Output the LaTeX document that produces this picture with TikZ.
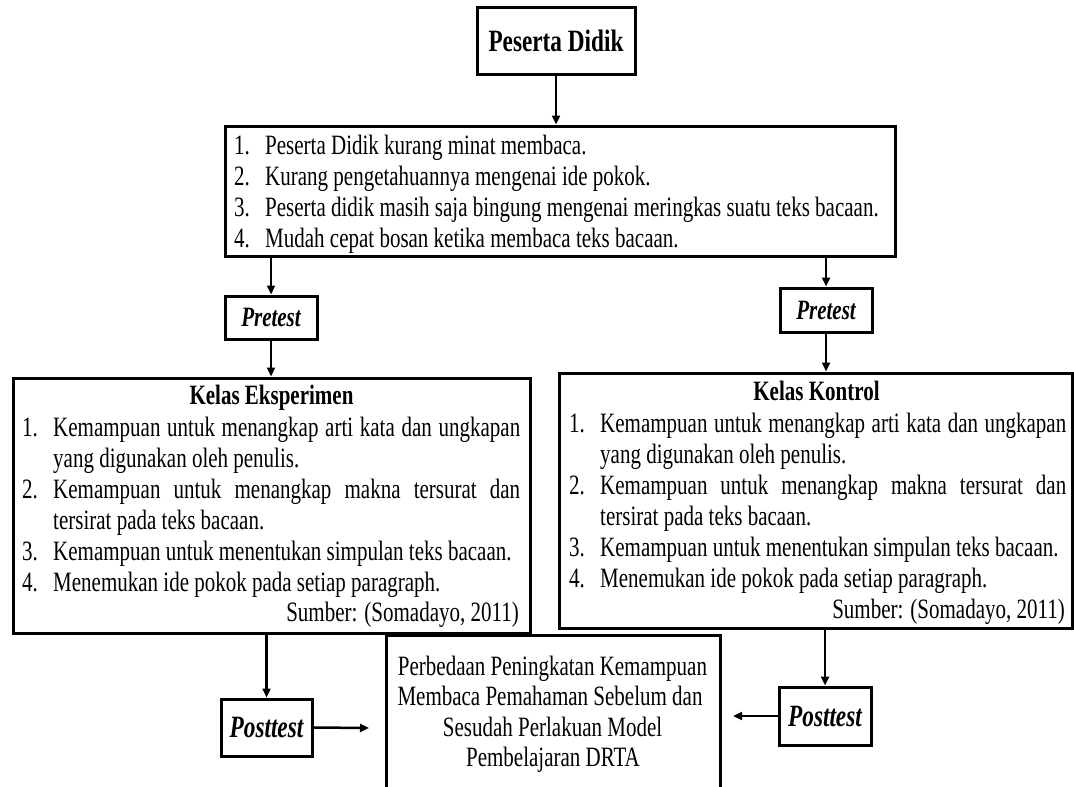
\documentclass[tikz,border=0pt]{standalone}
\usepackage{fontspec}
\setmainfont{Liberation Serif}[FakeStretch=0.75]
\usetikzlibrary{arrows.meta}
\newcommand{\nm}[1]{\makebox[31pt][l]{#1}}
\newcommand{\jl}[2]{\makebox[#1][s]{#2}}
\begin{document}
\begin{tikzpicture}[x=1pt,y=-1pt,
  frame/.style={draw, line width=3pt, rectangle, inner sep=0pt},
  arr/.style={line width=2.5pt, -{Triangle[length=9pt,width=8pt]}},
  txt/.style={inner sep=0pt, font=\fontsize{28}{31}\selectfont},
  lbl/.style={frame, font=\fontsize{28}{31}\selectfont\bfseries\itshape},
  post/.style={frame, font=\fontsize{31}{33}\selectfont\bfseries\itshape},
]
\useasboundingbox (0,0) rectangle (1074,787);
\clip (0,0) rectangle (1074,787);

% boxes
\node[frame, minimum width=158pt, minimum height=67pt, font=\fontsize{31}{33}\selectfont\bfseries] (pd) at (556,40.5) {Peserta Didik};
\node[frame, minimum width=670pt, minimum height=130pt] (prob) at (560,191) {};
\node[lbl, minimum width=92pt, minimum height=43pt] (preL) at (271,317.5) {Pretest};
\node[lbl, minimum width=92pt, minimum height=44pt] (preR) at (826,310) {Pretest};
\node[frame, minimum width=517pt, minimum height=255pt] (eks) at (271.5,505.5) {};
\node[frame, minimum width=513pt, minimum height=255pt] (kon) at (815.5,500.5) {};
\node[post, minimum width=91pt, minimum height=57pt] (postL) at (266.5,727.5) {Posttest};
\node[post, minimum width=92pt, minimum height=58pt] (postR) at (825,716) {Posttest};
\node[frame, minimum width=334pt, minimum height=180pt] (hasil) at (553,725) {};

% problem box text
\node[txt, anchor=base west] (p1) at (234,154) {\nm{1.}Peserta Didik kurang minat membaca.};
\node[txt, anchor=base west] (p2) at (234,185) {\nm{2.}Kurang pengetahuannya mengenai ide pokok.};
\node[txt, anchor=base west] (p3) at (234,216) {\nm{3.}Peserta didik masih saja bingung mengenai meringkas suatu teks bacaan.};
\node[txt, anchor=base west] (p4) at (234,247) {\nm{4.}Mudah cepat bosan ketika membaca teks bacaan.};

% eksperimen text
\node[txt, anchor=base, font=\fontsize{28}{31}\selectfont\bfseries] (e0) at (271.5,404) {Kelas Eksperimen};
\node[txt, anchor=base west] (e1) at (22,436) {\nm{1.}\jl{467pt}{Kemampuan untuk menangkap arti kata dan ungkapan}};
\node[txt, anchor=base west] (e2) at (53,467) {yang digunakan oleh penulis.};
\node[txt, anchor=base west] (e3) at (22,498) {\nm{2.}\jl{467pt}{Kemampuan untuk menangkap makna tersurat dan}};
\node[txt, anchor=base west] (e4) at (53,529) {tersirat pada teks bacaan.};
\node[txt, anchor=base west] (e5) at (22,560) {\nm{3.}Kemampuan untuk menentukan simpulan teks bacaan.};
\node[txt, anchor=base west] (e6) at (22,591) {\nm{4.}Menemukan ide pokok pada setiap paragraph.};
\node[txt, anchor=base east] (e7) at (519,621) {Sumber: (Somadayo, 2011)};

% kontrol text
\node[txt, anchor=base, font=\fontsize{28}{31}\selectfont\bfseries] (k0) at (816.5,400) {Kelas Kontrol};
\node[txt, anchor=base west] (k1) at (569,432) {\nm{1.}\jl{466pt}{Kemampuan untuk menangkap arti kata dan ungkapan}};
\node[txt, anchor=base west] (k2) at (600,463) {yang digunakan oleh penulis.};
\node[txt, anchor=base west] (k3) at (569,494) {\nm{2.}\jl{466pt}{Kemampuan untuk menangkap makna tersurat dan}};
\node[txt, anchor=base west] (k4) at (600,525) {tersirat pada teks bacaan.};
\node[txt, anchor=base west] (k5) at (569,556) {\nm{3.}Kemampuan untuk menentukan simpulan teks bacaan.};
\node[txt, anchor=base west] (k6) at (569,587) {\nm{4.}Menemukan ide pokok pada setiap paragraph.};
\node[txt, anchor=base east] (k7) at (1065,618) {Sumber: (Somadayo, 2011)};

% result text
\node[txt, anchor=base] (h1) at (552.5,675) {Perbedaan Peningkatan Kemampuan};
\node[txt, anchor=base] (h2) at (550,705) {Membaca Pemahaman Sebelum dan};
\node[txt, anchor=base] (h3) at (552.5,736) {Sesudah Perlakuan Model};
\node[txt, anchor=base] (h4) at (553,766) {Pembelajaran DRTA};

% connectors
\coordinate (aL) at (369,728);
\coordinate (aR) at (733,716);
\draw[arr] (pd.south) -- (pd.south |- prob.north);
\draw[arr] (preL.north |- prob.south) -- (preL.north);
\draw[arr] (preR.north |- prob.south) -- (preR.north);
\draw[arr] (preL.south) -- (preL.south |- eks.north);
\draw[arr] (preR.south) -- (preR.south |- kon.north);
\draw[arr] (postL.north |- eks.south) -- (postL.north);
\draw[arr] (postR.north |- kon.south) -- (postR.north);
\draw[arr] (postL.east) -- (aL);
\draw[arr] (postR.west) -- (aR);
\end{tikzpicture}
\end{document}
